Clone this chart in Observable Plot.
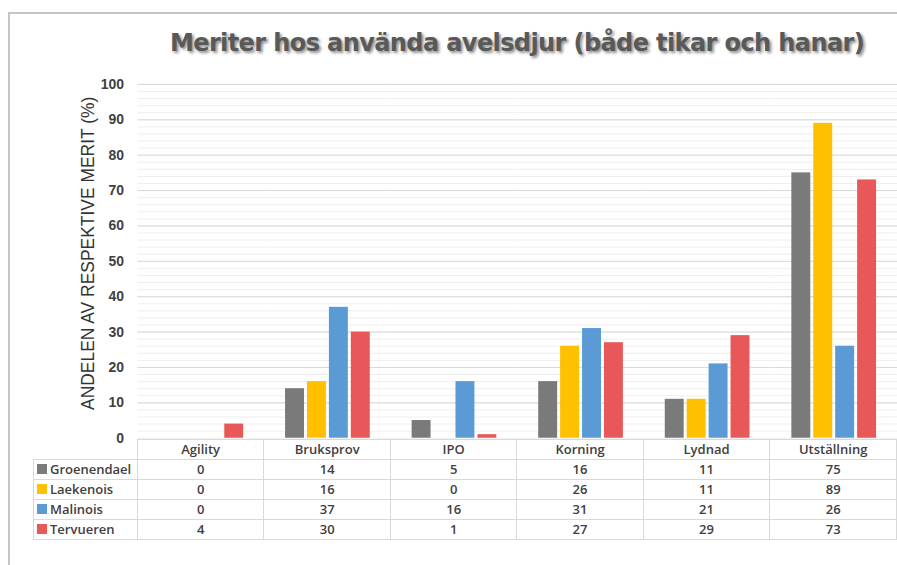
<!DOCTYPE html>
<html>
<head>
<meta charset="utf-8">
<script src="https://cdn.jsdelivr.net/npm/d3@7"></script>
<script src="https://cdn.jsdelivr.net/npm/@observablehq/plot@0.6"></script>
<style>
  html, body { margin: 0; padding: 0; background: #fff; overflow: hidden; width: 897px; height: 565px; }
  #wrap { position: relative; width: 897px; height: 565px; }
  #frame { position: absolute; left: 8px; top: 12px; width: 1000px; height: 1000px; border-left: 2px solid #c6c6c6; border-top: 2px solid #c6c6c6; box-sizing: border-box; }
  #title { position: absolute; left: 0; top: 29px; width: 1034px; text-align: center; font-family: "DejaVu Sans", sans-serif; font-weight: bold; font-size: 24px; color: #595959; text-shadow: 2px 2px 3px rgba(0,0,0,0.45); letter-spacing: -0.6px; white-space: nowrap; }
  #chart { position: absolute; left: 0; top: 60px; }
  #chart g[aria-label="y-axis tick label"] text { font-weight: bold; font-size: 14px; fill: #404040; }
  #chart g[aria-label="y-axis label"] { translate: -2px -8px; }
  #chart g[aria-label="y-axis label"] text { font-size: 17.5px; fill: #333333; }
  #tbl { position: absolute; left: 33px; top: 439px; border-collapse: collapse; font-family: "Open Sans", sans-serif; font-weight: 600; font-size: 13px; color: #404040; table-layout: fixed; }
  #tbl td { border: 1px solid #d9d9d9; height: 19px; padding: 0; text-align: center; line-height: 19px; white-space: nowrap; overflow: hidden; }
  #tbl td.lab { text-align: left; padding-left: 3px; }
  #tbl td.empty { border: none; border-bottom: 1px solid #d9d9d9; }
  .sw { display: inline-block; width: 10px; height: 10px; margin-right: 3px; }
</style>
</head>
<body>
<div id="wrap">
  <div id="frame"></div>
  <div id="title">Meriter hos använda avelsdjur (både tikar och hanar)</div>
  <div id="chart"></div>
  <table id="tbl"></table>
</div>
<script>
const categories = ["Agility", "Bruksprov", "IPO", "Korning", "Lydnad", "Utställning"];
const series = ["Groenendael", "Laekenois", "Malinois", "Tervueren"];
const colors = ["#7a7a7a", "#ffc000", "#5b9bd5", "#e85858"];
const groenendael = [0, 14, 5, 16, 11, 75];
const laekenois = [0, 16, 0, 26, 11, 89];
const malinois = [0, 37, 16, 31, 21, 26];
const tervueren = [4, 30, 1, 27, 29, 73];
const yTicks = [0, 10, 20, 30, 40, 50, 60, 70, 80, 90, 100];
const yLabel = "ANDELEN AV RESPEKTIVE MERIT (%)";

const values = [groenendael, laekenois, malinois, tervueren];
const data = [];
categories.forEach((c, i) => series.forEach((s, j) => data.push({category: c, series: s, value: values[j][i]})));

const chart = Plot.plot({
  width: 900,
  height: 380,
  marginLeft: 137,
  marginRight: 0,
  marginTop: 24,
  marginBottom: 1,
  style: { fontFamily: "Liberation Sans, Arial, sans-serif", overflow: "visible", color: "#404040" },
  fx: { domain: categories, padding: 0, axis: null, label: null },
  x: { domain: series, paddingInner: 0.13, paddingOuter: 0.83, axis: null },
  y: { domain: [0, 100], ticks: yTicks, tickSize: 0, tickPadding: 14, tickFormat: d => d, label: yLabel, labelAnchor: "center", labelOffset: 55, labelArrow: "none" },
  color: { domain: series, range: colors },
  marks: [
    Plot.gridY(d3.range(0, 101, 2), { stroke: "#eeeeee", strokeOpacity: 1 }),
    Plot.gridY(d3.range(10, 101, 10), { stroke: "#d9d9d9", strokeOpacity: 1 }),
    Plot.barY(data, { fx: "category", x: "series", y: "value", fill: "series" })
  ]
});
document.getElementById("chart").appendChild(chart);

// data table below the chart
const tbl = document.getElementById("tbl");
const colW = 763 / 6;
let html = `<colgroup><col style="width:104px">${categories.map(() => `<col style="width:${colW}px">`).join("")}</colgroup>`;
html += `<tr><td class="empty"></td>${categories.map(c => `<td>${c}</td>`).join("")}</tr>`;
series.forEach((s, j) => {
  html += `<tr><td class="lab"><span class="sw" style="background:${colors[j]}"></span>${s}</td>${values[j].map(v => `<td>${v}</td>`).join("")}</tr>`;
});
tbl.innerHTML = html;
</script>
</body>
</html>
